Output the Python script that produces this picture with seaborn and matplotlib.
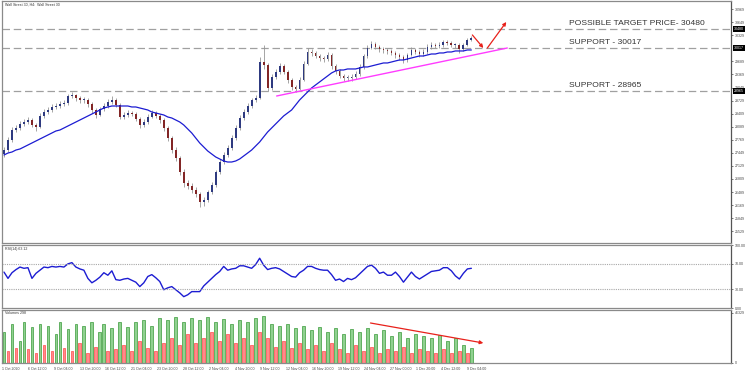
"""
Wall Street 30 (H4) chart with candles, 50-bar moving average, RSI(14)
and MT4-style volume bars, plus hand-drawn support / target levels.
"""

import numpy as np
import matplotlib
matplotlib.use("Agg")
import matplotlib.pyplot as plt
import seaborn as sns

# ── Price data (one entry per bar) ──────────────────────────────────────────
first_open = 27420
close = [
    27518, 27763, 28008, 28057, 28155, 28204, 28253, 28131, 28082, 28351,
    28449, 28498, 28572, 28596, 28645, 28670, 28841, 28866, 28792, 28743,
    28743, 28645, 28498, 28376, 28523, 28596, 28694, 28743, 28620, 28327,
    28376, 28425, 28400, 28278, 28131, 28204, 28327, 28425, 28351, 28253,
    28057, 27812, 27518, 27322, 26979, 26710, 26636, 26538, 26440, 26244,
    26293, 26489, 26661, 26979, 27224, 27396, 27567, 27812, 28057, 28302,
    28449, 28596, 28743, 28792, 29674, 29601, 29037, 29307, 29429, 29576,
    29429, 29233, 29062, 29013, 29233, 29625, 29919, 29895, 29821, 29772,
    29748, 29846, 29576, 29454, 29331, 29282, 29282, 29307, 29380, 29552,
    29821, 30017, 30115, 30042, 29993, 29968, 29944, 29895, 29846, 29797,
    29723, 29846, 29968, 29919, 29870, 29919, 30042, 30091, 30066, 30091,
    30164, 30140, 30091, 30091, 29993, 30091, 30213, 30262,
]
high = [
    27600, 27830, 28080, 28130, 28220, 28280, 28330, 28300, 28180, 28420,
    28520, 28570, 28640, 28680, 28710, 28740, 28900, 28940, 28900, 28830,
    28810, 28790, 28690, 28540, 28580, 28660, 28760, 28830, 28800, 28660,
    28450, 28500, 28480, 28450, 28320, 28270, 28390, 28500, 28470, 28400,
    28300, 28100, 27870, 27580, 27380, 27050, 26790, 26700, 26600, 26480,
    26370, 26550, 26730, 27040, 27290, 27460, 27640, 27880, 28130, 28370,
    28520, 28660, 28800, 28860, 29800, 30091, 29650, 29370, 29500, 29650,
    29620, 29480, 29280, 29120, 29300, 29690, 30017, 29990, 29940, 29880,
    29830, 29920, 29890, 29620, 29500, 29390, 29360, 29380, 29450, 29620,
    29880, 30090, 30190, 30160, 30090, 30050, 30020, 30000, 29950, 29890,
    29850, 29900, 30040, 30010, 29960, 29990, 30110, 30170, 30150, 30160,
    30220, 30210, 30180, 30150, 30130, 30150, 30270, 30310,
]
low = [
    27350, 27480, 27720, 27950, 28000, 28100, 28160, 28070, 27990, 28050,
    28300, 28400, 28450, 28520, 28540, 28590, 28630, 28790, 28730, 28680,
    28660, 28580, 28430, 28300, 28340, 28480, 28550, 28650, 28570, 28270,
    28280, 28330, 28340, 28220, 28060, 28090, 28160, 28290, 28290, 28190,
    27990, 27750, 27450, 27250, 26900, 26620, 26570, 26460, 26370, 26120,
    26150, 26250, 26430, 26620, 26930, 27170, 27350, 27520, 27760, 28010,
    28250, 28400, 28550, 28700, 28760, 29500, 28960, 29000, 29260, 29380,
    29370, 29170, 29000, 28940, 28980, 29200, 29590, 29830, 29760, 29700,
    29680, 29700, 29510, 29390, 29270, 29210, 29200, 29220, 29260, 29340,
    29500, 29780, 29980, 29980, 29930, 29900, 29880, 29840, 29780, 29730,
    29640, 29680, 29810, 29860, 29800, 29830, 29880, 30000, 30010, 30020,
    30050, 30080, 30040, 30020, 29900, 29950, 30060, 30180,
]
moving_avg = [
    27396, 27444, 27469, 27518, 27543, 27592, 27641, 27690, 27739, 27788,
    27837, 27886, 27935, 27984, 28008, 28057, 28106, 28155, 28204, 28253,
    28302, 28351, 28400, 28449, 28498, 28547, 28572, 28596, 28596, 28596,
    28596, 28596, 28572, 28572, 28547, 28523, 28498, 28449, 28425, 28400,
    28376, 28327, 28302, 28253, 28204, 28131, 28033, 27935, 27812, 27690,
    27592, 27494, 27420, 27347, 27298, 27249, 27224, 27224, 27249, 27298,
    27371, 27444, 27518, 27616, 27714, 27837, 27959, 28057, 28155, 28253,
    28351, 28425, 28498, 28620, 28743, 28841, 28939, 29037, 29111, 29184,
    29258, 29331, 29405, 29454, 29478, 29478, 29503, 29503, 29503, 29527,
    29552, 29552, 29576, 29601, 29625, 29650, 29650, 29674, 29699, 29723,
    29723, 29748, 29772, 29797, 29821, 29821, 29846, 29870, 29870, 29895,
    29895, 29919, 29919, 29944, 29944, 29944, 29968, 29968,
]
rsi = [
    57, 47, 56, 61, 65, 63, 64, 47, 55, 60,
    65, 64, 66, 65, 66, 65, 70, 72, 65, 62,
    60, 47, 40, 44, 49, 56, 52, 59, 45, 44,
    46, 47, 44, 41, 34, 40, 50, 53, 48, 42,
    29, 32, 34, 29, 24, 18, 21, 26, 26, 26,
    35, 41, 47, 53, 58, 66, 60, 62, 63, 67,
    67, 65, 63, 69, 79, 68, 61, 63, 64, 62,
    58, 54, 50, 49, 56, 60, 66, 66, 63, 61,
    60, 60, 53, 44, 46, 42, 47, 45, 48, 54,
    60, 66, 68, 63, 55, 57, 52, 52, 57, 50,
    41, 49, 57, 50, 46, 50, 54, 58, 59, 60,
    64, 64, 59, 51, 46, 55, 62, 63,
]
volume = [
    28400, 11300, 35900, 14200, 20800, 37800, 13200, 33100, 9500, 35900,
    17000, 34000, 11300, 26500, 37800, 14200, 31200, 11300, 35900, 18900,
    34000, 9500, 37800, 15100, 28400, 35900, 11300, 32100, 13200, 37800,
    17000, 33100, 11300, 37800, 20800, 39700, 14200, 34000, 11300, 41600,
    18900, 39700, 23600, 42500, 17000, 37800, 26500, 41600, 18900, 39700,
    22700, 42500, 28400, 37800, 20800, 40600, 26500, 35900, 18900, 39700,
    23600, 37800, 17000, 41600, 28400, 43500, 22700, 35900, 15100, 34000,
    20800, 35900, 14200, 32100, 18900, 34000, 13200, 30200, 17000, 33100,
    11300, 28400, 18900, 32100, 13200, 26500, 9500, 31200, 17000, 28400,
    11300, 32100, 15100, 26500, 9500, 30200, 13200, 24600, 11300, 28400,
    15100, 23600, 9500, 26500, 13200, 24600, 11300, 22700, 9500, 25500,
    13200, 20800, 9500, 22700, 11300, 17000, 9500, 14200,
]

date_labels = [
    "1 Oct 2020", "6 Oct 12:00", "9 Oct 04:00", "13 Oct 20:00", "16 Oct 12:00",
    "21 Oct 04:00", "23 Oct 20:00", "28 Oct 12:00", "2 Nov 04:00", "4 Nov 20:00",
    "9 Nov 12:00", "12 Nov 04:00", "16 Nov 20:00", "19 Nov 12:00", "24 Nov 04:00",
    "27 Nov 00:00", "1 Dec 20:00", "4 Dec 12:00", "9 Dec 04:00",
]
price_ticks = [30969, 30649, 30329, 29689, 29369, 29049, 28729, 28409, 28089,
               27769, 27449, 27129, 26809, 26489, 26169, 25849, 25529]
level_prices = [30480, 30017, 28965]
level_texts = ["POSSIBLE TARGET PRICE- 30480", "SUPPORT - 30017", "SUPPORT - 28965"]

# hand-drawn analysis marks: (bar, price) / (bar, volume) end points
trend_line = [(68.25, 28841), (126.0, 30017)]
arrow_down = [(117.25, 30336), (120.0, 30017)]
arrow_up = [(121.0, 30017), (125.75, 30654)]
vol_arrow = [(91.75, 37060), (120.0, 18530)]

# ── Style ───────────────────────────────────────────────────────────────────
sns.set_theme(style="white")
plt.rcParams["font.family"] = ["Liberation Sans", "DejaVu Sans"]

BULL, BEAR, WICK = "#2e3a80", "#822626", "#969696"
BLUE = "#1c1cd2"
SPINE = "#8a8a8a"
TICK_FS = 2.6

n = len(close)
idx = np.arange(n)
close_a = np.asarray(close, dtype=float)
open_a = np.r_[first_open, close_a[:-1]]   # each bar opens at the prior close
up = close_a >= open_a

W, H = 750, 372
fig = plt.figure(figsize=(W / 100, H / 100), dpi=100)
fig.patch.set_facecolor("white")


def px_axes(top, bottom, sharex=None):
    return fig.add_axes([2 / W, 1 - bottom / H, 729 / W, (bottom - top) / H],
                        sharex=sharex)


ax = px_axes(1, 243)
ax_rsi = px_axes(245, 308, sharex=ax)
ax_vol = px_axes(310, 363, sharex=ax)

# ── Main panel: candles + MA ────────────────────────────────────────────────
ax.vlines(idx, low, high, color=WICK, linewidth=0.6, zorder=2)
body = np.maximum(np.abs(close_a - open_a), 15)
ax.bar(idx, body, bottom=np.minimum(close_a, open_a), width=0.45,
       color=np.where(up, BULL, BEAR), linewidth=0, zorder=3)
sns.lineplot(x=idx, y=moving_avg, ax=ax, color=BLUE, linewidth=0.9, zorder=4)

for price, label in zip(level_prices, level_texts):
    ax.axhline(price, color="#a0a0a0", linewidth=0.9, linestyle=(0, (6, 3)), zorder=1)
    ax.annotate(label, xy=(0.778, price), xycoords=ax.get_yaxis_transform(),
                xytext=(0, 1.5), textcoords="offset points", ha="left", va="bottom",
                fontsize=6.1, color="#333333")
    ax.annotate(str(price), xy=(1, price), xycoords=ax.get_yaxis_transform(),
                xytext=(2.2, 0), textcoords="offset points", ha="left", va="center",
                fontsize=TICK_FS, color="white", annotation_clip=False,
                bbox=dict(boxstyle="square,pad=0.25", fc="black", ec="none"))

(tx0, ty0), (tx1, ty1) = trend_line
ax.plot([tx0, tx1], [ty0, ty1], color="#ff3cff", linewidth=1.0, zorder=5)
for (x0, y0), (x1, y1) in (arrow_down, arrow_up):
    ax.annotate("", xy=(x1, y1), xytext=(x0, y0),
                arrowprops=dict(arrowstyle="-|>", color="#e8211b", lw=0.9,
                                mutation_scale=5, shrinkA=0, shrinkB=0))

ax.set_ylim(25240, 31168)
ax.set_xlim(-0.25, 182)
ax.set_yticks(price_ticks)
ax.set_yticklabels([str(p) for p in price_ticks])
ax.text(0.004, 0.995, "Wall Street 30, H4:  Wall Street 30", transform=ax.transAxes,
        ha="left", va="top", fontsize=TICK_FS, color="#333333")

# ── RSI panel ───────────────────────────────────────────────────────────────
sns.lineplot(x=idx, y=rsi, ax=ax_rsi, color=BLUE, linewidth=1.0)
for lvl in (70, 30):
    ax_rsi.axhline(lvl, color="#a8a8a8", linewidth=0.8, linestyle=(0, (1, 1)))
ax_rsi.set_ylim(0, 100)
ax_rsi.set_yticks([0, 30, 70, 100])
ax_rsi.set_yticklabels(["0.00", "30.00", "70.00", "100.00"])
ax_rsi.text(0.004, 0.97, "RSI(14) 63.12", transform=ax_rsi.transAxes,
            ha="left", va="top", fontsize=TICK_FS, color="#333333")

# ── Volume panel (green when volume rises vs previous bar) ──────────────────
vol = np.asarray(volume)
rising = np.r_[True, vol[1:] > vol[:-1]]
ax_vol.bar(idx, vol, width=0.7,
           color=np.where(rising, "#8fd18f", "#ff8a8a"),
           edgecolor=np.where(rising, "#3a9a3a", "#ff4a4a"), linewidth=0.5)
(vx0, vy0), (vx1, vy1) = vol_arrow
ax_vol.annotate("", xy=(vx1, vy1), xytext=(vx0, vy0),
                arrowprops=dict(arrowstyle="-|>", color="#e8211b", lw=0.9,
                                mutation_scale=5, shrinkA=0, shrinkB=0))
ax_vol.set_ylim(0, 49100)
ax_vol.set_yticks([0, 46329])
ax_vol.set_yticklabels(["0", "46329"])
ax_vol.text(0.004, 0.98, "Volumes 298", transform=ax_vol.transAxes,
            ha="left", va="top", fontsize=TICK_FS, color="#333333")

tick_pos = -0.5 + np.arange(len(date_labels)) * 6.47
ax_vol.set_xticks(tick_pos)
ax_vol.set_xticklabels(date_labels, ha="left")

# ── Common axis styling ─────────────────────────────────────────────────────
for a in (ax, ax_rsi, ax_vol):
    a.set_facecolor("white")
    a.set_xlabel("")
    a.set_ylabel("")
    a.yaxis.tick_right()
    a.tick_params(axis="y", which="both", labelsize=TICK_FS, colors="#444444",
                  length=1.5, width=0.5, pad=1.5, left=False, right=True)
    a.tick_params(axis="x", labelsize=TICK_FS, colors="#444444",
                  length=2, width=0.5, pad=1)
    a.grid(False)
    for side, spine in a.spines.items():
        spine.set_color(SPINE)
        spine.set_linewidth(0.9)
    a.spines["right"].set_color("#555555")

for a in (ax, ax_rsi):
    a.tick_params(axis="x", bottom=False, labelbottom=False)

fig.savefig("out.png", dpi=100, facecolor="white")
plt.close(fig)
